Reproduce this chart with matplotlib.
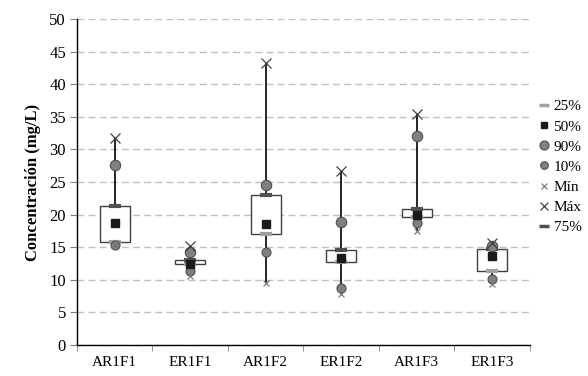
import matplotlib.pyplot as plt
from matplotlib.lines import Line2D
import numpy as np

plt.rcParams["font.family"] = ["Liberation Serif", "DejaVu Serif"]

# valores (mg/L)
categorias = ["AR1F1", "ER1F1", "AR1F2", "ER1F2", "AR1F3", "ER1F3"]
minimo = [15.4, 10.6, 9.5, 7.8, 17.5, 9.3]
p10 = [15.4, 11.4, 14.2, 8.8, 18.7, 10.2]
p25 = [15.8, 12.5, 17.0, 12.8, 19.6, 11.4]
p50 = [18.7, 12.5, 18.5, 13.4, 20.0, 13.6]
p75 = [21.3, 13.0, 23.0, 14.5, 20.9, 14.7]
p90 = [27.6, 14.3, 24.6, 18.9, 32.1, 15.2]
maximo = [31.7, 15.2, 43.2, 26.7, 35.4, 15.6]

fig = plt.figure(figsize=(5.88, 3.76), dpi=100)
ax = fig.add_axes([0.131, 0.0824, 0.77, 0.8671])

x = np.arange(len(categorias)) + 0.5
largura = 0.4

# linhas mín-máx
ax.vlines(x, minimo, maximo, color="black", linewidth=1.2, zorder=2)

# caixas 25%-75%
for xi, a, b in zip(x, p25, p75):
    ax.add_patch(plt.Rectangle((xi - largura / 2, a), largura, b - a,
                               facecolor="white", edgecolor="#404040",
                               linewidth=1.0, zorder=3))

ax.plot(x, p25, linestyle="none", marker="_", markersize=9, mew=3,
        color="#a0a0a0", zorder=4)
ax.plot(x, p75, linestyle="none", marker="_", markersize=9, mew=3,
        color="#505050", zorder=4)
ax.plot(x, p10, linestyle="none", marker="o", markersize=6.5,
        markerfacecolor="#808080", markeredgecolor="#505050", mew=0.8, zorder=5)
ax.plot(x, p90, linestyle="none", marker="o", markersize=7.5,
        markerfacecolor="#808080", markeredgecolor="#505050", mew=0.8, zorder=5)
ax.plot(x, minimo, linestyle="none", marker="x", markersize=4.5, mew=0.8,
        color="#707070", zorder=5)
ax.plot(x, maximo, linestyle="none", marker="x", markersize=6.5, mew=0.9,
        color="#404040", zorder=5)
ax.plot(x, p50, linestyle="none", marker="s", markersize=5.5,
        color="#1a1a1a", zorder=6)

ax.set_xlim(0, len(categorias))
ax.set_ylim(0, 50)
ax.set_yticks(np.arange(0, 51, 5))
ax.set_xticks(x)
ax.set_xticklabels(categorias, fontsize=11)
ax.set_xticks(np.arange(0, len(categorias) + 1), minor=True)
ax.tick_params(axis="x", which="major", length=0, pad=8)
ax.tick_params(axis="x", which="minor", length=4, color="#808080", direction="out")
ax.tick_params(axis="y", length=5, color="#808080", labelsize=12, pad=3)

ax.grid(True, axis="y", color="#c0c0c0", linestyle=(0, (5, 3)), linewidth=1.0)
ax.set_axisbelow(True)

for lado in ["top", "right"]:
    ax.spines[lado].set_visible(False)
ax.spines["left"].set_linewidth(1.0)
ax.spines["bottom"].set_linewidth(1.0)

ax.set_ylabel("Concentración (mg/L)", fontsize=12, fontweight="bold", labelpad=6)

handles = [
    Line2D([], [], linestyle="none", marker="_", markersize=7, mew=2.5, color="#a0a0a0"),
    Line2D([], [], linestyle="none", marker="s", markersize=5, color="#1a1a1a"),
    Line2D([], [], linestyle="none", marker="o", markersize=6.5,
           markerfacecolor="#808080", markeredgecolor="#505050", mew=0.8),
    Line2D([], [], linestyle="none", marker="o", markersize=5.5,
           markerfacecolor="#808080", markeredgecolor="#505050", mew=0.8),
    Line2D([], [], linestyle="none", marker="x", markersize=4, mew=0.8, color="#707070"),
    Line2D([], [], linestyle="none", marker="x", markersize=6, mew=0.9, color="#404040"),
    Line2D([], [], linestyle="none", marker="_", markersize=7, mew=2.5, color="#505050"),
]
rotulos = ["25%", "50%", "90%", "10%", "Mín", "Máx", "75%"]
fig.legend(handles, rotulos, loc="center left", bbox_to_anchor=(0.905, 0.556),
           frameon=False, fontsize=11, handlelength=0.6, handletextpad=0.3,
           labelspacing=0.42, borderpad=0)

fig.savefig("out.png", dpi=100)
plt.close(fig)
